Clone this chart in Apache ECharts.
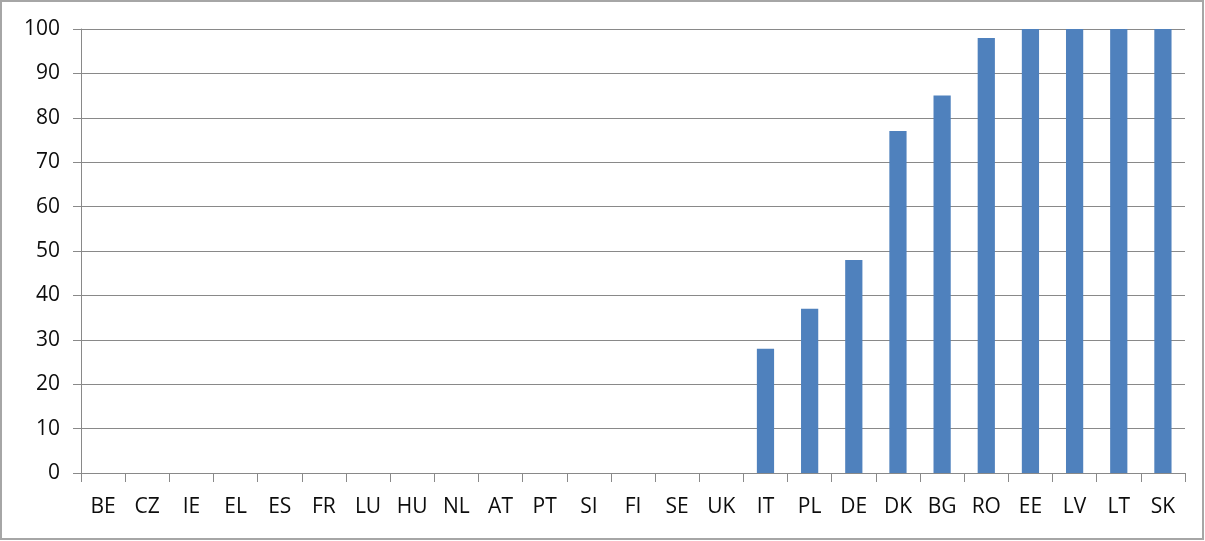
<!DOCTYPE html>
<html><head><meta charset="utf-8">
<script src="https://cdn.jsdelivr.net/npm/echarts@6/dist/echarts.min.js"></script>
<style>html,body{margin:0;padding:0;background:#fff}#c{width:1204px;height:540px;box-sizing:border-box;border:2px solid #a6a6a6}</style>
</head><body><div id="c"></div>
<script>
const categories = ['BE','CZ','IE','EL','ES','FR','LU','HU','NL','AT','PT','SI','FI','SE','UK','IT','PL','DE','DK','BG','RO','EE','LV','LT','SK'];
const values = [0,0,0,0,0,0,0,0,0,0,0,0,0,0,0,28,37,48,77,85,98,100,100,100,100];
const yTicks = [0,10,20,30,40,50,60,70,80,90,100];

const chart = echarts.init(document.getElementById('c'));
chart.setOption({
  animation: false,
  grid: {left: 79, right: 17, top: 27, bottom: 65, containLabel: false},
  xAxis: {
    type: 'category', data: categories,
    axisLine: {lineStyle: {color: '#898989', width: 1}},
    axisTick: {show: true, length: 9, lineStyle: {color: '#898989'}},
    axisLabel: {color: '#0d0d0d', fontFamily: 'Open Sans', fontSize: 21, margin: 24, interval: 0}
  },
  yAxis: {
    type: 'value', min: 0, max: 100, interval: 10,
    axisLine: {show: true, lineStyle: {color: '#898989'}},
    axisTick: {show: true, length: 8, lineStyle: {color: '#898989'}},
    axisLabel: {color: '#0d0d0d', fontFamily: 'Open Sans', fontSize: 21, margin: 21,
      formatter: v => yTicks.includes(v) ? String(v) : ''},
    splitLine: {lineStyle: {color: '#898989', width: 1}}
  },
  series: [{
    type: 'bar', data: values, barCategoryGap: '61%',
    itemStyle: {color: '#4f81bd'}
  }]
});
</script></body></html>
